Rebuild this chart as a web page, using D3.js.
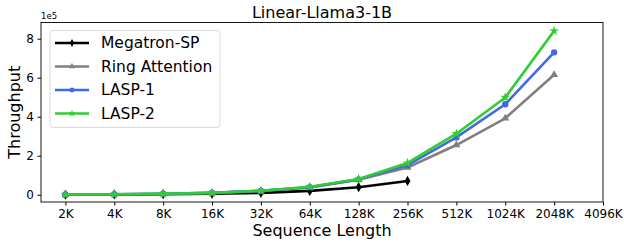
<!DOCTYPE html>
<style>
    body { margin: 0; background: #fff; }
    text { font-family: "DejaVu Sans", sans-serif; }
</style>
<body>
<script src="https://d3js.org/d3.v7.min.js"></script>
<script>
    var seqLabels = ["2K", "4K", "8K", "16K", "32K", "64K", "128K", "256K", "512K", "1024K", "2048K", "4096K"];
    var yTicks = [0, 2, 4, 6, 8];

    // throughput, units of 1e5
    var megatron = [0.01, 0.02, 0.03, 0.05, 0.1, 0.2, 0.39, 0.71];
    var ring = [0.012, 0.025, 0.05, 0.1, 0.2, 0.38, 0.77, 1.40, 2.55, 3.92, 6.15];
    var lasp1 = [0.012, 0.025, 0.05, 0.1, 0.2, 0.39, 0.79, 1.52, 2.94, 4.64, 7.30];
    var lasp2 = [0.012, 0.025, 0.05, 0.1, 0.21, 0.41, 0.81, 1.63, 3.13, 4.99, 8.40];

    var series = [
        {name: "Megatron-SP", values: megatron, color: "#000000", marker: d3.symbolDiamond, size: 30},
        {name: "Ring Attention", values: ring, color: "#808080", marker: d3.symbolTriangle, size: 28},
        {name: "LASP-1", values: lasp1, color: "#4169e1", marker: d3.symbolCircle, size: 32},
        {name: "LASP-2", values: lasp2, color: "#32cd32", marker: d3.symbolStar, size: 30}
    ];

    var W = 624, H = 243;
    var margin = {left: 41, right: 21, top: 22.5, bottom: 41};

    var svg = d3.select("body").append("svg")
        .attr("width", W)
        .attr("height", H);

    var x = d3.scaleLinear()
        .domain([-0.5, 11])
        .range([margin.left, W - margin.right]);

    var y = d3.scaleLinear()
        .domain([-0.37, 8.83])
        .range([H - margin.bottom, margin.top]);

    var g = svg.append("g");

    // axes
    g.append("g")
        .attr("transform", "translate(0," + (H - margin.bottom) + ")")
        .call(d3.axisBottom(x).tickValues(d3.range(12)).tickFormat(function(i) { return seqLabels[i]; }).tickSize(3.5).tickPadding(4))
        .call(function(a) {
            a.select(".domain").remove();
            a.selectAll("text").attr("font-size", 12).attr("fill", "#000").attr("font-family", "DejaVu Sans");
        });

    g.append("g")
        .attr("transform", "translate(" + margin.left + ",0)")
        .call(d3.axisLeft(y).tickValues(yTicks).tickFormat(d3.format("d")).tickSize(3.5).tickPadding(3.5))
        .call(function(a) {
            a.select(".domain").remove();
            a.selectAll("text").attr("font-size", 12).attr("fill", "#000").attr("font-family", "DejaVu Sans");
        });

    // frame
    g.append("rect")
        .attr("x", margin.left)
        .attr("y", margin.top)
        .attr("width", W - margin.left - margin.right)
        .attr("height", H - margin.top - margin.bottom)
        .attr("fill", "none")
        .attr("stroke", "#000")
        .attr("stroke-width", 0.9);

    var line = d3.line()
        .x(function(d, i) { return x(i); })
        .y(function(d) { return y(d); });

    series.forEach(function(s) {
        g.append("path")
            .datum(s.values)
            .attr("d", line)
            .attr("fill", "none")
            .attr("stroke", s.color)
            .attr("stroke-width", 2.6)
            .attr("stroke-linejoin", "round");
        g.selectAll(null)
            .data(s.values)
            .enter().append("path")
            .attr("transform", function(d, i) { return "translate(" + x(i) + "," + y(d) + ")"; })
            .attr("d", d3.symbol().type(s.marker).size(s.size))
            .attr("fill", s.color);
    });

    // texts
    svg.append("text")
        .attr("x", (margin.left + W - margin.right) / 2)
        .attr("y", 18)
        .attr("text-anchor", "middle")
        .attr("font-size", 16)
        .text("Linear-Llama3-1B");

    svg.append("text")
        .attr("x", margin.left)
        .attr("y", 19)
        .attr("font-size", 8.5)
        .text("1e5");

    svg.append("text")
        .attr("x", (margin.left + W - margin.right) / 2)
        .attr("y", 235.5)
        .attr("text-anchor", "middle")
        .attr("font-size", 16)
        .text("Sequence Length");

    svg.append("text")
        .attr("transform", "translate(20," + ((margin.top + H - margin.bottom) / 2) + ") rotate(-90)")
        .attr("text-anchor", "middle")
        .attr("font-size", 16)
        .text("Throughput");

    // legend
    var lg = svg.append("g").attr("transform", "translate(50,30.5)");
    lg.append("rect")
        .attr("width", 170)
        .attr("height", 97)
        .attr("rx", 3)
        .attr("fill", "#fff")
        .attr("fill-opacity", 0.8)
        .attr("stroke", "#d6d6d6")
        .attr("stroke-width", 0.9);

    var item = lg.selectAll(".item")
        .data(series)
        .enter().append("g")
        .attr("transform", function(d, i) { return "translate(0," + (12.5 + i * 23.5) + ")"; });

    item.append("line")
        .attr("x1", 5).attr("x2", 39)
        .attr("stroke", function(d) { return d.color; })
        .attr("stroke-width", 2.6);
    item.append("path")
        .attr("transform", "translate(22,0)")
        .attr("d", function(d) { return d3.symbol().type(d.marker).size(d.size * 0.6)(); })
        .attr("fill", function(d) { return d.color; });
    item.append("text")
        .attr("x", 51)
        .attr("dy", "0.35em")
        .attr("font-size", 15.5)
        .text(function(d) { return d.name; });
</script>
</body>
